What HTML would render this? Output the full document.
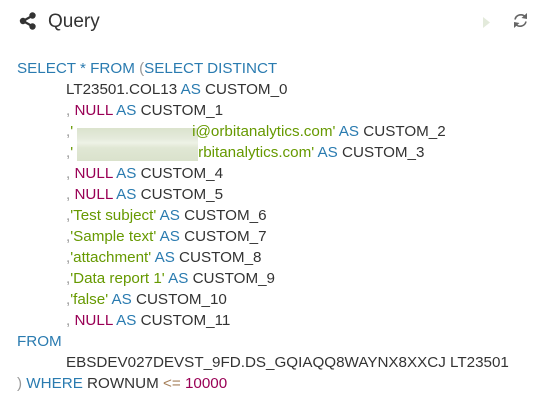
<!DOCTYPE html>
<html><head><style>
body{margin:0;width:544px;height:420px;background:#fff;overflow:hidden;position:relative;font-family:"Liberation Sans",Arial,sans-serif}
.hd{position:absolute;left:48px;top:10px;font-size:19px;color:#333;line-height:24px}
.c{position:absolute;left:17px;top:58px;font-size:15.2px;line-height:21px;color:#333;white-space:nowrap;z-index:2}
.c div{height:21px}
.i{padding-left:49px}
.sp{display:inline-block}
.k{color:#2a7bb0}.n{color:#990055}.s{color:#669900}.p{color:#999}.o{color:#a67f59}
.blur{position:absolute;left:77px;top:128px;width:121px;height:33px;z-index:1;background:linear-gradient(180deg,#dbe3cd 0%,#e4eadb 30%,#eef2e6 45%,#e0e7d4 60%,#dae2cc 100%)}
</style></head><body>
<svg style="position:absolute;left:19px;top:12px" width="18" height="18" viewBox="0 0 18 18">
<line x1="13" y1="4" x2="4" y2="9" stroke="#333" stroke-width="2.2"/><line x1="13" y1="14" x2="4" y2="9" stroke="#333" stroke-width="2.2"/>
<circle cx="13.5" cy="3.5" r="3.2" fill="#333"/><circle cx="13.5" cy="14.5" r="3.2" fill="#333"/><circle cx="4" cy="9" r="3.2" fill="#333"/></svg>
<div class="hd">Query</div>
<svg style="position:absolute;left:483px;top:17px" width="8" height="11"><polygon points="0,0 7,5.5 0,11" fill="#e3eadb"/></svg>
<svg style="position:absolute;left:512px;top:12px" width="17" height="17" viewBox="0 0 17 17">
<path d="M3 7.5 A6 6 0 0 1 13.5 5" fill="none" stroke="#666" stroke-width="1.6"/><polygon points="15,1 15,7 9.5,6" fill="#666"/>
<path d="M14 9.5 A6 6 0 0 1 3.5 12" fill="none" stroke="#666" stroke-width="1.6"/><polygon points="2,16 2,10 7.5,11" fill="#666"/></svg>
<div class="c"><div><span class="k">SELECT * FROM </span><span class="p">(</span><span class="k">SELECT DISTINCT</span></div><div class="i">LT23501.COL13 <span class="k">AS</span> CUSTOM_0</div><div class="i"><span class="p">,</span> <span class="n">NULL</span> <span class="k">AS</span> CUSTOM_1</div><div class="i"><span class="p">,</span><span class="s">'<span class="sp" style="width:119px"></span>i@orbitanalytics.com'</span> <span class="k">AS</span> CUSTOM_2</div><div class="i"><span class="p">,</span><span class="s">'<span class="sp" style="width:125px"></span>rbitanalytics.com'</span> <span class="k">AS</span> CUSTOM_3</div><div class="i"><span class="p">,</span> <span class="n">NULL</span> <span class="k">AS</span> CUSTOM_4</div><div class="i"><span class="p">,</span> <span class="n">NULL</span> <span class="k">AS</span> CUSTOM_5</div><div class="i"><span class="p">,</span><span class="s">'Test subject'</span> <span class="k">AS</span> CUSTOM_6</div><div class="i"><span class="p">,</span><span class="s">'Sample text'</span> <span class="k">AS</span> CUSTOM_7</div><div class="i"><span class="p">,</span><span class="s">'attachment'</span> <span class="k">AS</span> CUSTOM_8</div><div class="i"><span class="p">,</span><span class="s">'Data report 1'</span> <span class="k">AS</span> CUSTOM_9</div><div class="i"><span class="p">,</span><span class="s">'false'</span> <span class="k">AS</span> CUSTOM_10</div><div class="i"><span class="p">,</span> <span class="n">NULL</span> <span class="k">AS</span> CUSTOM_11</div><div><span class="k">FROM</span></div><div class="i">EBSDEV027DEVST_9FD.DS_GQIAQQ8WAYNX8XXCJ LT23501</div><div><span class="p">)</span> <span class="k">WHERE</span> ROWNUM <span class="o">&lt;=</span> <span class="n">10000</span></div></div>
<div class="blur"></div>
</body></html>
